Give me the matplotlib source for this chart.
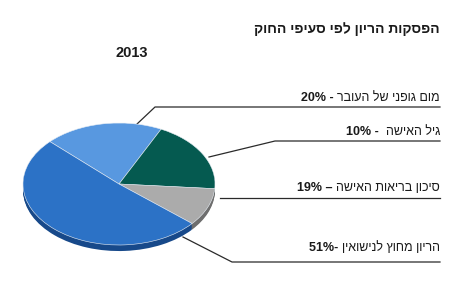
import matplotlib
matplotlib.use("Agg")
import matplotlib.pyplot as plt
import numpy as np

plt.rcParams['font.family'] = ['Liberation Sans', 'DejaVu Sans']

# slice shares as drawn (clockwise from upper left)
shares = [20, 19, 10, 51]
colors = ['#5898e0', '#055a50', '#ababab', '#2c72c6']
rim_colors = ['#3a6fae', '#03403a', '#6e6e6e', '#17498a']

# label texts (hebrew part, number part) top to bottom
label_heb = ['מום גופני של העובר', 'גיל האישה', 'סיכון בריאות האישה', 'הריון מחוץ לנישואין']
label_num = ['20%', '10%', '19%', '51%']
label_sep = [' - ', ' -  ', ' – ', '- ']

title = 'הפסקות הריון לפי סעיפי החוק'
year = '2013'


def vis(s):
    # hebrew shown right to left
    return s[::-1]


W, H = 451, 300
fig = plt.figure(figsize=(W / 100, H / 100), dpi=100)
ax0 = fig.add_axes([0, 0, 1, 1])
ax0.set_xlim(0, W)
ax0.set_ylim(H, 0)
ax0.axis('off')

# pie axes: ellipse top surface spans x 23..215, y 123..245
L, R, T, B = 23, 215, 123, 245
ax = fig.add_axes([L / W, (H - B) / H, (R - L) / W, (B - T) / H])
start = 136
# rim (depth)
for k in range(6, 0, -1):
    wr, _ = ax.pie(shares, colors=rim_colors, startangle=start, counterclock=False,
                   center=(0, -k * 0.0165), radius=1.0,
                   wedgeprops=dict(linewidth=0))
    for w in wr:
        w.set_clip_on(False)
wt, _ = ax.pie(shares, colors=colors, startangle=start, counterclock=False,
               radius=1.0, wedgeprops=dict(linewidth=0.4, edgecolor='#e8eef5'))
for w in wt:
    w.set_clip_on(False)
ax.set_aspect('auto')
ax.set_xlim(-1, 1)
ax.set_ylim(-1, 1)
ax.axis('off')

# title and year
ax0.text(440, 29, vis(title), ha='right', va='center', fontsize=10,
         fontweight='bold', color='#1a1a1a')
ax0.text(115, 53, year, ha='left', va='center', fontsize=10.5,
         fontweight='bold', color='#1a1a1a')

# labels
text_y = [98, 132, 188, 248]
line_y = [108, 141, 198, 262]
leaders = [
    [(137, 124), (155, 107), (440, 107)],
    [(209, 157), (275, 141), (440, 141)],
    [(220, 198), (440, 198)],
    [(183, 237), (232, 262), (440, 262)],
]
fig.canvas.draw()
renderer = fig.canvas.get_renderer()
for i in range(4):
    t = ax0.text(440, text_y[i], vis(label_heb[i]), ha='right', va='center',
                 fontsize=9, color='#1a1a1a')
    bb = t.get_window_extent(renderer)
    xleft = bb.x0
    ax0.text(xleft, text_y[i], label_num[i] + label_sep[i], ha='right', va='center',
             fontsize=9, fontweight='bold', color='#1a1a1a')
    pts = np.array(leaders[i])
    ax0.plot(pts[:, 0], pts[:, 1], color='#2a2a2a', lw=0.9)

fig.savefig('out.png', dpi=100, facecolor='white')
